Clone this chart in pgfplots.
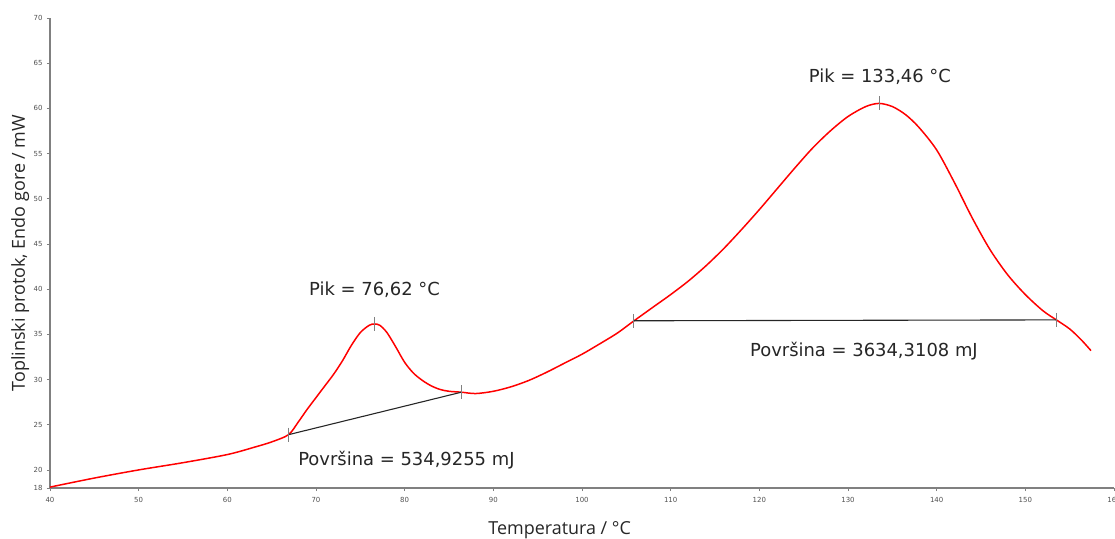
\documentclass[border=0pt]{standalone}
\usepackage{pgfplots}
\pgfplotsset{compat=1.18}
\usepackage{fontspec}
\setmainfont{DejaVu Sans}
\newfontfamily\labelfont{Open Sans}
\definecolor{axgray}{RGB}{128,128,128}
\definecolor{ticktext}{RGB}{80,80,80}
\begin{document}
\begin{tikzpicture}
\begin{axis}[
  at={(0,0)}, anchor=south west,
  scale only axis, width=1064bp, height=470bp,
  xmin=40, xmax=160, ymin=18, ymax=70,
  xtick={40,50,...,160},
  ytick={18,20,25,30,35,40,45,50,55,60,65,70},
  axis x line=bottom, axis y line=left,
  axis line style={-, axgray, line width=1.4pt},
  tick style={axgray, line width=0.8pt},
  major tick length=3bp,
  xtick align=outside, ytick align=outside,
  tick label style={font=\fontsize{7}{8}\selectfont, text=ticktext},
  /pgf/number format/assume math mode=true,
  xticklabel style={yshift=-3bp},
  yticklabel style={xshift=-1bp},
  xlabel={Temperatura / °C},
  ylabel={Toplinski protok, Endo gore / mW},
  label style={font=\labelfont\fontsize{18}{20}\selectfont, text=black!85},
  xlabel style={at={(axis description cs:0.479,-0.089)}, anchor=center},
  ylabel style={at={(axis description cs:-0.028,0.5)}, anchor=center, rotate=0},
  clip=false,
]
\addplot[red, line width=1.5pt, smooth, tension=0.5] coordinates {
(40,18.1) (45,19.1) (50,20.0) (55,20.8) (60,21.7) (63,22.5) (65,23.1) (66.9,23.9)
(68,25.3) (69,26.7) (70,28.0) (71,29.3) (72,30.6) (73,32.1) (74,33.8) (75,35.2)
(76,36.0) (76.6,36.15) (77.2,36.0) (78,35.2) (79,33.6) (80,31.9) (81,30.7)
(82,29.9) (83,29.3) (84,28.9) (85,28.7) (86.4,28.6) (88,28.45) (90,28.7)
(92,29.2) (94,29.9) (96,30.8) (98,31.8) (100,32.8) (102,33.95) (104,35.15)
(105.8,36.45) (108,38.0) (110,39.4) (112,40.9) (114,42.6) (116,44.5) (118,46.6)
(120,48.8) (122,51.1) (124,53.4) (126,55.6) (128,57.5) (130,59.1) (132,60.2)
(133.5,60.55) (135,60.2) (136.5,59.3) (138,57.9) (140,55.4) (142,51.8)
(144,47.9) (146,44.4) (148,41.6) (150,39.4) (152,37.6) (153.5,36.6) (155,35.6)
(156.3,34.4) (157.4,33.2)
};
\addplot[black!85, line width=1.1pt] coordinates {(66.9,23.9) (86.4,28.6)};
\addplot[black!85, line width=1.1pt] coordinates {(105.8,36.5) (153.5,36.6)};
\addplot[only marks, mark=|, mark size=7bp, mark options={axgray, line width=0.8pt}] coordinates {
(66.9,23.9) (76.6,36.15) (86.4,28.6) (105.8,36.5) (133.5,60.55) (153.5,36.6)};
\node[font=\fontsize{18}{20}\selectfont, text=black!85] at (axis cs:76.6,39.9) {Pik = 76,62 °C};
\node[font=\fontsize{18}{20}\selectfont, text=black!85] at (axis cs:80.2,21.1) {Površina = 534,9255 mJ};
\node[font=\fontsize{18}{20}\selectfont, text=black!85] at (axis cs:133.6,63.5) {Pik = 133,46 °C};
\node[font=\fontsize{18}{20}\selectfont, text=black!85] at (axis cs:131.8,33.1) {Površina = 3634,3108 mJ};
\end{axis}
\pgfresetboundingbox
\path[use as bounding box] (-50bp,-51bp) rectangle (1065bp,488bp);
\end{tikzpicture}
\end{document}
